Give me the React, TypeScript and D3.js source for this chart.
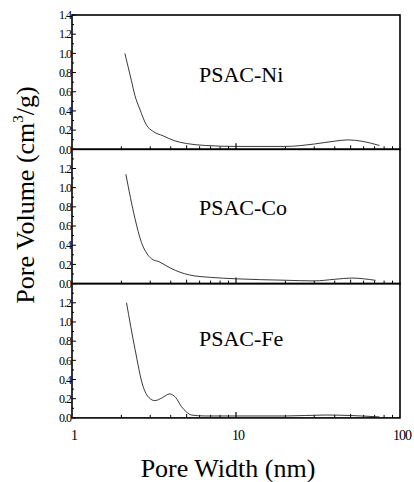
import React from 'react';
import * as d3 from 'd3';

// pore size distributions
const niWidth = [2.1, 2.3, 2.42, 2.59, 2.85, 3.1, 3.6, 4.2, 5.0, 6.5, 10, 20, 30, 40, 48, 58, 66, 75];
const niVolume = [1.0, 0.72, 0.56, 0.42, 0.25, 0.19, 0.14, 0.09, 0.06, 0.04, 0.03, 0.03, 0.055, 0.085, 0.098, 0.085, 0.065, 0.04];

const coWidth = [2.13, 2.42, 2.65, 2.87, 3.05, 3.43, 4.0, 5.2, 7, 10, 20, 30, 40, 51, 60, 71];
const coVolume = [1.14, 0.68, 0.43, 0.31, 0.26, 0.225, 0.16, 0.09, 0.065, 0.05, 0.035, 0.028, 0.045, 0.058, 0.05, 0.034];

const feWidth = [2.15, 2.42, 2.71, 2.95, 3.2, 3.55, 3.94, 4.3, 4.64, 5.0, 5.34, 6.5, 10, 20, 35, 50, 75];
const feVolume = [1.2, 0.72, 0.33, 0.21, 0.18, 0.21, 0.25, 0.21, 0.12, 0.06, 0.03, 0.02, 0.02, 0.02, 0.03, 0.025, 0.01];

const sampleNames = ['PSAC-Ni', 'PSAC-Co', 'PSAC-Fe'];
const xTickLabels = ['1', '10', '100'];
const yTickValues = [0, 0.2, 0.4, 0.6, 0.8, 1.0, 1.2, 1.4];

const series = [
  { name: sampleNames[0], w: niWidth, v: niVolume },
  { name: sampleNames[1], w: coWidth, v: coVolume },
  { name: sampleNames[2], w: feWidth, v: feVolume },
];

const font = 'Liberation Serif';

export default function App() {
  const width = 414;
  const height = 482;
  const left = 72;
  const right = 400;
  const top = 15;
  const panelH = 134.3;
  const labelOffset = [67, 66, 62];

  const x = d3.scaleLog().domain([1, 100]).range([left, right]);

  const minorX: number[] = [];
  [1, 10].forEach(dec => {
    for (let k = 2; k <= 9; k++) minorX.push(dec * k);
  });

  const minorY = d3.range(0, 15).map(i => i / 10);

  const panels = series.map((s, i) => {
    const y0 = top + panelH * (i + 1);
    const y = d3.scaleLinear().domain([0, 1.4]).range([y0, y0 - panelH]);
    const line = d3.line<number>()
      .x((d, j) => x(s.w[j]))
      .y(d => y(d))
      .curve(d3.curveMonotoneX);
    const labels = i === 0 ? yTickValues : yTickValues.slice(0, -1);

    return (
      <g key={s.name}>
        <rect x={left} y={y0 - panelH} width={right - left} height={panelH}
              fill="none" stroke="#000" strokeWidth={1.6} />
        {/* x ticks, pointing up */}
        {minorX.map(t => (
          <line key={'mx' + t} x1={x(t)} x2={x(t)} y1={y0} y2={y0 - (t === 5 || t === 50 ? 4 : 3)}
                stroke="#000" strokeWidth={1} />
        ))}
        <line x1={x(10)} x2={x(10)} y1={y0} y2={y0 - 6} stroke="#000" strokeWidth={1.2} />
        {/* y ticks */}
        {minorY.map(t => (
          <line key={'my' + t} x1={left} x2={left + (Math.round(t * 10) % 2 === 0 ? 4 : 2)}
                y1={y(t)} y2={y(t)} stroke="#000" strokeWidth={1} />
        ))}
        {labels.map(t => (
          <text key={'ly' + t} x={left - 1} y={y(t)} dy="0.35em" textAnchor="end"
                fontSize={12} letterSpacing={-1}>
            {t.toFixed(1)}
          </text>
        ))}
        <path d={line(s.v) || ''} fill="none" stroke="#222" strokeWidth={0.9} />
        <text x={199} y={y0 - panelH + labelOffset[i]} fontSize={22}>{s.name}</text>
      </g>
    );
  });

  const bottom = top + panelH * 3;

  return (
    <svg width={width} height={height} style={{ position: 'absolute', left: 0, top: 0, fontFamily: font }}>
      <rect width={width} height={height} fill="#fff" />
      {panels}
      {[1, 10, 100].map((t, i) => (
        <text key={'lx' + t} x={x(t) + 2} y={bottom + 22} textAnchor="middle"
              fontSize={14} letterSpacing={-1}>
          {xTickLabels[i]}
        </text>
      ))}
      <text x={228} y={477} textAnchor="middle" fontSize={26}>
        Pore Width (nm)
      </text>
      <text transform="translate(34,195) rotate(-90)" textAnchor="middle" fontSize={26}>
        Pore Volume (cm<tspan dy={-11} fontSize={15}>3</tspan><tspan dy={11}>/g)</tspan>
      </text>
    </svg>
  );
}
